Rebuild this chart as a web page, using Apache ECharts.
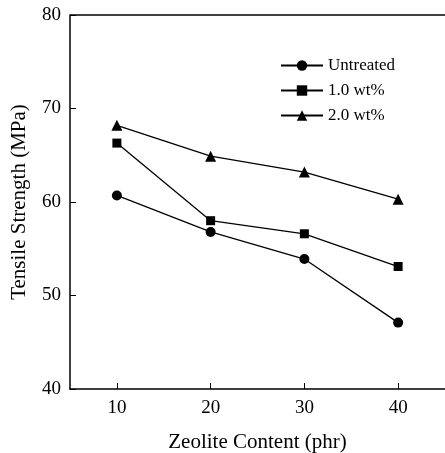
<!DOCTYPE html>
<html>
<head>
<meta charset="utf-8">
<script src="https://cdn.jsdelivr.net/npm/echarts@6/dist/echarts.min.js"></script>
<style>
  html, body { margin: 0; padding: 0; background: #fff; }
  #chart { width: 445px; height: 453px; }
</style>
</head>
<body>
<div id="chart"></div>
<script>
const zeolite = [10, 20, 30, 40];
const untreated = [60.7, 56.8, 53.9, 47.1];
const treated10 = [66.3, 58.0, 56.6, 53.1];
const treated20 = [68.2, 64.9, 63.2, 60.3];
const seriesNames = ["Untreated", "1.0 wt%", "2.0 wt%"];
const xTicks = [10, 20, 30, 40];
const yTicks = [40, 50, 60, 70, 80];

const font = "Liberation Serif";
const chart = echarts.init(document.getElementById("chart"));

const makeSeries = (name, values, symbol, size) => ({
  name: name,
  type: "line",
  data: zeolite.map((x, i) => [x, values[i]]),
  symbol: symbol,
  symbolSize: size,
  itemStyle: { color: "#000" },
  lineStyle: { color: "#000", width: 1.3 },
  emphasis: { disabled: true },
});

const option = {
  animation: false,
  grid: { left: 70, right: 0, top: 15, bottom: 64, outerBoundsMode: "none" },
  legend: {
    orient: "vertical",
    left: 280,
    top: 57,
    padding: 0,
    itemWidth: 42,
    itemHeight: 13,
    itemGap: 8,
    textStyle: { fontFamily: font, fontSize: 17, color: "#000" },
    data: seriesNames,
  },
  xAxis: {
    type: "value",
    min: 5,
    max: 45,
    interval: 5,
    name: "Zeolite Content (phr)",
    nameLocation: "middle",
    nameGap: 43,
    nameTextStyle: { fontFamily: font, fontSize: 21, color: "#000" },
    axisLine: { lineStyle: { color: "#000", width: 1.5 } },
    axisTick: {
      inside: true,
      length: 6,
      lineStyle: { color: "#000" },
      customValues: xTicks,
    },
    axisLabel: {
      fontFamily: font,
      fontSize: 19,
      color: "#000",
      margin: 10,
      customValues: xTicks,
    },
    splitLine: { show: false },
  },
  yAxis: {
    type: "value",
    min: 40,
    max: 80,
    interval: 10,
    name: "Tensile Strength (MPa)",
    nameLocation: "middle",
    nameGap: 40,
    nameTextStyle: { fontFamily: font, fontSize: 21, color: "#000" },
    axisLine: { show: true, lineStyle: { color: "#000", width: 1.5 } },
    axisTick: { show: true, inside: true, length: 6, lineStyle: { color: "#000" } },
    axisLabel: {
      fontFamily: font,
      fontSize: 19,
      color: "#000",
      margin: 9,
      formatter: (v) => (yTicks.includes(v) ? String(v) : ""),
    },
    splitLine: { show: false },
  },
  series: [
    makeSeries(seriesNames[0], untreated, "circle", 10),
    makeSeries(seriesNames[1], treated10, "rect", 9),
    makeSeries(seriesNames[2], treated20, "triangle", 11),
  ],
  graphic: [
    {
      type: "line",
      shape: { x1: 70, y1: 15, x2: 445, y2: 15 },
      style: { stroke: "#000", lineWidth: 1.5 },
    },
  ],
};

chart.setOption(option);
</script>
</body>
</html>
